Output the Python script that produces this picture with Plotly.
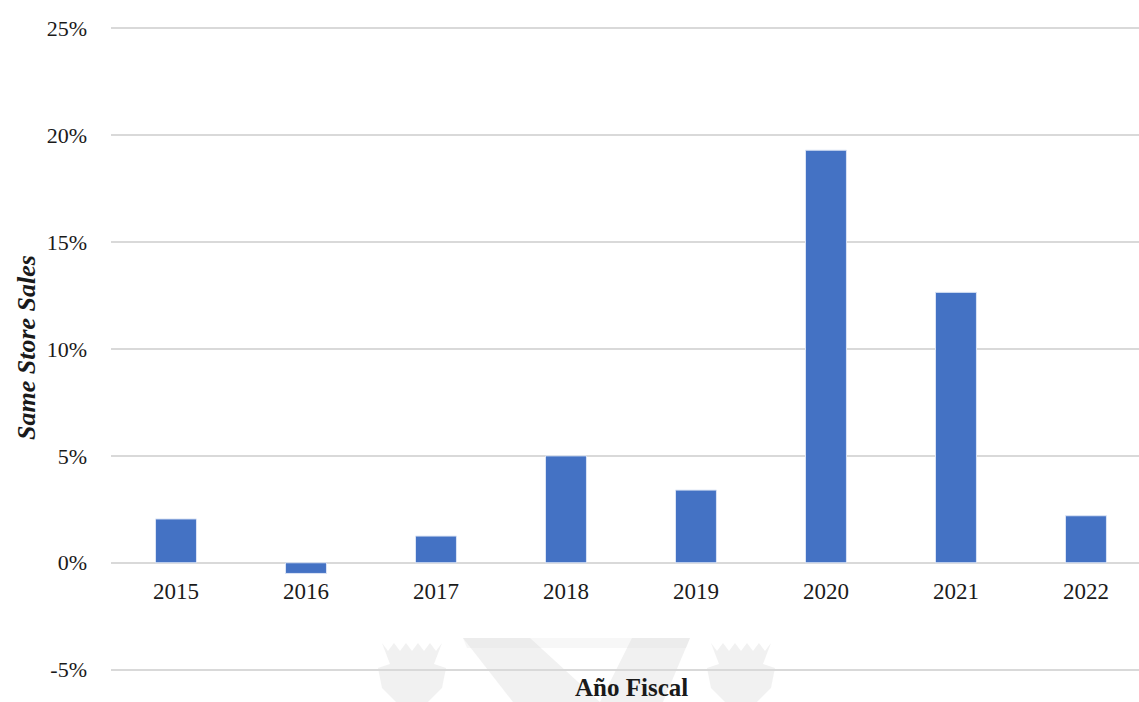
import plotly.graph_objects as go

# Same store sales growth by fiscal year (%)
years = ["2015", "2016", "2017", "2018", "2019", "2020", "2021", "2022"]
sss = [2.05, -0.5, 1.25, 5.0, 3.4, 19.3, 12.65, 2.2]

y_ticks = [-5, 0, 5, 10, 15, 20, 25]
y_tick_text = ["-5%", "0%", "5%", "10%", "15%", "20%", "25%"]

W, H = 1139, 702
L, R, T, B = 111, 0, 26, 30
plot_w = W - L - R
plot_h = H - T - B

SERIF = "Liberation Serif, Times New Roman, serif"


def px_x(x):
    return (x - L) / plot_w


def px_y(y):
    return (H - B - y) / plot_h


def poly(points):
    pts = [(px_x(x), px_y(y)) for x, y in points]
    return "M " + " L ".join(f"{a:.5f},{b:.5f}" for a, b in pts) + " Z"


fig = go.Figure()
fig.add_trace(go.Bar(
    x=list(range(len(years))),
    y=sss,
    width=0.315,
    marker=dict(color="#4472C4", line=dict(color="#dbe4f5", width=1)),
    hovertemplate="%{y:.1f}%<extra></extra>",
))

# faint logo watermark behind the chart
wm = "rgba(215,215,215,0.35)"
shapes = []
shapes.append(dict(type="path", xref="paper", yref="paper", layer="below",
                   path=poly([(463, 638), (690, 638), (686, 648), (467, 648)]),
                   fillcolor="rgba(225,225,225,0.25)", line=dict(width=0)))
shapes.append(dict(type="path", xref="paper", yref="paper", layer="below",
                   path=poly([(463, 638), (530, 638), (600, 702), (513, 702)]),
                   fillcolor=wm, line=dict(width=0)))
shapes.append(dict(type="path", xref="paper", yref="paper", layer="below",
                   path=poly([(632, 638), (690, 638), (663, 702), (600, 702)]),
                   fillcolor=wm, line=dict(width=0)))
for cx in (412, 741):
    crown = [(cx - 30, 643), (cx - 24, 651), (cx - 18, 643), (cx - 12, 651),
             (cx - 6, 643), (cx, 651), (cx + 6, 643), (cx + 12, 651),
             (cx + 18, 643), (cx + 24, 651), (cx + 30, 643),
             (cx + 22, 664), (cx + 34, 668), (cx + 30, 688), (cx + 16, 702),
             (cx - 16, 702), (cx - 30, 688), (cx - 34, 668), (cx - 22, 664)]
    shapes.append(dict(type="path", xref="paper", yref="paper", layer="below",
                       path=poly(crown), fillcolor=wm, line=dict(width=0)))

fig.update_layout(
    width=W, height=H,
    margin=dict(l=L, r=R, t=T, b=B, pad=0),
    paper_bgcolor="white", plot_bgcolor="rgba(0,0,0,0)",
    showlegend=False,
    font=dict(family=SERIF, color="#1a1a1a", size=22),
    shapes=shapes,
    xaxis=dict(
        range=[-0.5, 7.408],
        tickvals=list(range(len(years))),
        ticktext=years,
        showgrid=False, zeroline=False, showline=False,
        ticks="", anchor="free", position=(0 + 5.11) / 30.22,
        ticklabelstandoff=12,
        tickfont=dict(family=SERIF, size=23, color="#1a1a1a"),
    ),
    yaxis=dict(
        range=[-5.11, 25.11],
        tickvals=y_ticks, ticktext=y_tick_text,
        showgrid=True, gridcolor="#d9d9d9", gridwidth=1.5,
        zeroline=False, showline=False, ticks="",
        ticklabelstandoff=23,
        tickfont=dict(family=SERIF, size=22, color="#1a1a1a"),
    ),
    annotations=[
        dict(text="<b>Año Fiscal</b>", xref="paper", yref="paper",
             x=px_x(631), y=px_y(687), xanchor="center", yanchor="middle",
             showarrow=False, font=dict(family=SERIF, size=25, color="#1a1a1a")),
        dict(text="<b><i>Same Store Sales</i></b>", xref="paper", yref="paper",
             x=px_x(26), y=px_y(348), xanchor="center", yanchor="middle",
             textangle=-90, showarrow=False,
             font=dict(family=SERIF, size=26, color="#1a1a1a")),
    ],
)

fig.write_html("out.html")
